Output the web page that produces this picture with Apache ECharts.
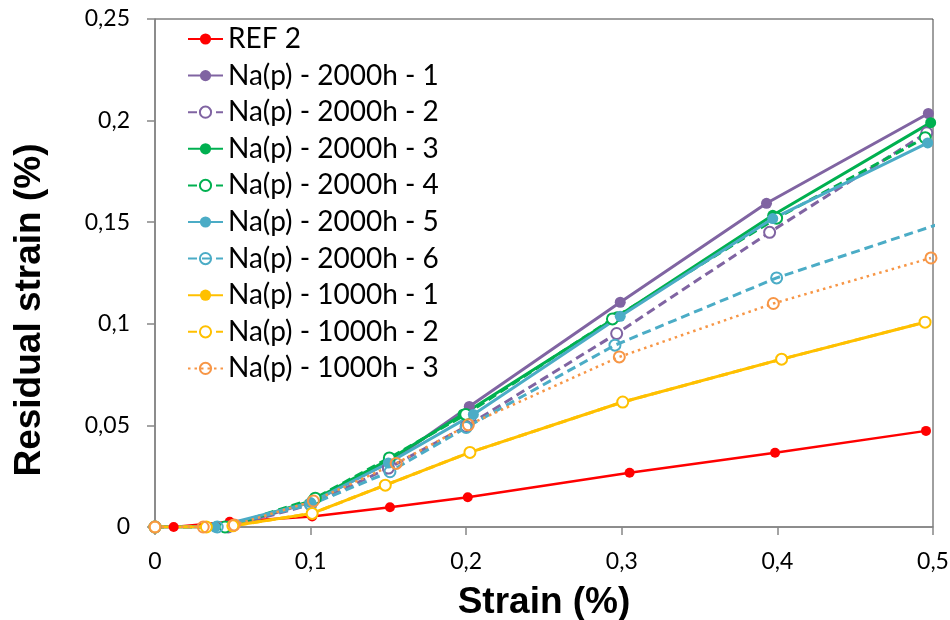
<!DOCTYPE html>
<html><head><meta charset="utf-8">
<script src="https://cdn.jsdelivr.net/npm/echarts@6/dist/echarts.min.js"></script>
<style>html,body{margin:0;padding:0;background:#fff}#c{width:950px;height:620px}</style>
</head><body><div id="c"></div>
<script>
const seriesNames = ['REF 2','Na(p) - 2000h - 1','Na(p) - 2000h - 2','Na(p) - 2000h - 3','Na(p) - 2000h - 4','Na(p) - 2000h - 5','Na(p) - 2000h - 6','Na(p) - 1000h - 1','Na(p) - 1000h - 2','Na(p) - 1000h - 3'];
const ref2   = [[0,0],[0.012,0],[0.048,0.0026],[0.101,0.0052],[0.151,0.0097],[0.201,0.0146],[0.305,0.0267],[0.3985,0.0365],[0.4955,0.0473]];
const h2000_1 = [[0,0],[0.05,0.0005],[0.101,0.0125],[0.151,0.032],[0.202,0.0593],[0.299,0.1106],[0.393,0.1593],[0.497,0.2035]];
const h2000_2 = [[0,0],[0.047,0],[0.1,0.011],[0.15,0.029],[0.2,0.0495],[0.2967,0.0952],[0.395,0.145],[0.496,0.194]];
const h2000_3 = [[0,0],[0.045,0],[0.101,0.013],[0.15,0.033],[0.198,0.0555],[0.297,0.1035],[0.397,0.1534],[0.4985,0.199]];
const h2000_4 = [[0,0],[0.045,0],[0.103,0.0142],[0.1506,0.034],[0.1997,0.0554],[0.294,0.1024],[0.3995,0.152],[0.495,0.1916]];
const h2000_5 = [[0,0],[0.0386,0],[0.1,0.012],[0.15,0.0315],[0.2046,0.0554],[0.299,0.1037],[0.397,0.1518],[0.4966,0.189]];
const h2000_6 = [[0,0],[0.04,0],[0.1,0.011],[0.151,0.0272],[0.2,0.049],[0.2956,0.0895],[0.3995,0.1226],[0.505,0.1494]];
const h1000_1 = [[0,0],[0.033,0],[0.05,0.0006],[0.101,0.0067],[0.148,0.0206],[0.2024,0.0367],[0.3006,0.0615],[0.4027,0.0826],[0.4949,0.1008]];
const h1000_2 = [[0,0],[0.033,0],[0.05,0.0006],[0.101,0.0067],[0.148,0.0206],[0.2024,0.0367],[0.3006,0.0615],[0.4027,0.0826],[0.4949,0.1008]];
const h1000_3 = [[0,0],[0.031,0],[0.051,0.001],[0.1018,0.0128],[0.155,0.0313],[0.2014,0.0503],[0.2984,0.0837],[0.3974,0.110],[0.4987,0.1324]];
const xTicks = [0,0.1,0.2,0.3,0.4,0.5];
const yTicks = [0,0.05,0.1,0.15,0.2,0.25];

const allData = [ref2,h2000_1,h2000_2,h2000_3,h2000_4,h2000_5,h2000_6,h1000_1,h1000_2,h1000_3];
const styles = [
  {c:'#FF0000', dash:'solid', fill:'solid', w:2.5, s:10},
  {c:'#8064A2', dash:'solid', fill:'solid', w:3, s:11},
  {c:'#8064A2', dash:[9,5], fill:'white', w:3, s:11},
  {c:'#00B050', dash:'solid', fill:'solid', w:3, s:11},
  {c:'#00B050', dash:[9,5], fill:'white', w:3, s:11},
  {c:'#4BACC6', dash:'solid', fill:'solid', w:3, s:11},
  {c:'#4BACC6', dash:[9,5], fill:'none', w:3, s:11},
  {c:'#FFC000', dash:'solid', fill:'solid', w:3, s:11},
  {c:'#FFC000', dash:[9,5], fill:'white', w:3, s:11},
  {c:'#F79646', dash:[2.5,4], fill:'none', w:2.5, s:11}
];

const fmt = v => String(parseFloat(v.toFixed(2))).replace('.', ',');
const tickFont = 'Lato';

const series = allData.map((d, i) => {
  const st = styles[i];
  const itemStyle = st.fill === 'solid'
    ? {color: st.c, borderColor: st.c, borderWidth: 0}
    : {color: st.fill === 'white' ? '#ffffff' : 'rgba(255,255,255,0)', borderColor: st.c, borderWidth: 2};
  return {
    name: seriesNames[i],
    type: 'line',
    data: d,
    symbol: 'circle',
    symbolSize: st.s,
    showSymbol: true,
    clip: true,
    animation: false,
    lineStyle: {color: st.c, width: st.w, type: st.dash, cap: 'butt'},
    itemStyle: itemStyle,
    emphasis: {disabled: true}
  };
});

const chart = echarts.init(document.getElementById('c'), null, {renderer: 'canvas'});
chart.setOption({
  backgroundColor: '#ffffff',
  animation: false,
  grid: {left: 155, right: 17, top: 19, bottom: 93, show: true, borderColor: '#404040', borderWidth: 1, containLabel: false, outerBoundsMode: 'none'},
  legend: {
    orient: 'vertical', left: 187, top: 24, padding: 0,
    itemWidth: 35, itemHeight: 14, itemGap: 6.6,
    data: seriesNames,
    textStyle: {fontFamily: tickFont, fontSize: 28, color: '#000', lineHeight: 30},
    selectedMode: false
  },
  xAxis: {
    type: 'value', min: xTicks[0], max: xTicks[xTicks.length-1], interval: 0.1,
    name: 'Strain (%)', nameLocation: 'middle', nameGap: 57,
    nameTextStyle: {fontFamily: 'Liberation Sans', fontWeight: 'bold', fontSize: 37, color: '#000'},
    axisLine: {show: true, lineStyle: {color: '#868686', width: 1.5}},
    axisTick: {show: true, inside: false, length: 8, lineStyle: {color: '#868686', width: 1.5}},
    axisLabel: {formatter: fmt, fontFamily: tickFont, fontSize: 23, color: '#000', margin: 23},
    splitLine: {show: false}
  },
  yAxis: {
    type: 'value', min: yTicks[0], max: yTicks[yTicks.length-1], interval: 0.05,
    name: 'Residual strain (%)', nameLocation: 'middle', nameGap: 107, nameRotate: 90,
    nameTextStyle: {fontFamily: 'Liberation Sans', fontWeight: 'bold', fontSize: 37, color: '#000', padding: [0, 74, 0, 0]},
    axisLine: {show: true, lineStyle: {color: '#868686', width: 1.5}},
    axisTick: {show: true, inside: false, length: 8, lineStyle: {color: '#868686', width: 1.5}},
    axisLabel: {formatter: fmt, fontFamily: tickFont, fontSize: 23, color: '#000', margin: 25},
    splitLine: {show: false}
  },
  series: series
});
</script></body></html>
